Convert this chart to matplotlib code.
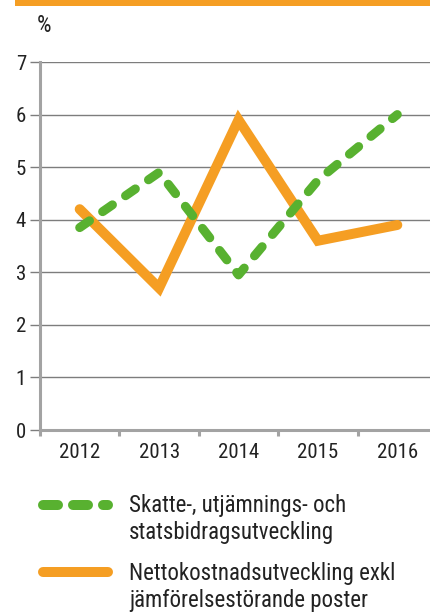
import matplotlib
matplotlib.use("Agg")
import matplotlib.pyplot as plt
from matplotlib.lines import Line2D
from matplotlib.patches import Rectangle

years = ["2012", "2013", "2014", "2015", "2016"]
skatte = [3.85, 4.9, 2.95, 4.75, 6.0]
netto = [4.2, 2.7, 5.9, 3.6, 3.9]
yticks = [0, 1, 2, 3, 4, 5, 6, 7]

label_skatte = "Skatte-, utjämnings- och\nstatsbidragsutveckling"
label_netto = "Nettokostnadsutveckling exkl\njämförelsestörande poster"

GREEN = "#58b130"
ORANGE = "#f59e23"
GRID = "#7d7d7d"
SPINE = "#a3a3a3"
TXT = "#222222"

plt.rcParams["font.family"] = ["Roboto Condensed", "Archivo Narrow", "PT Sans Narrow",
                               "Liberation Sans Narrow", "DejaVu Sans"]
plt.rcParams["lines.scale_dashes"] = False

fig = plt.figure(figsize=(4.30, 6.13), dpi=100)
W, H = 430, 613

# orange band on top
fig.add_artist(Rectangle((15 / W, 1 - 6 / H), 1, 6 / H, transform=fig.transFigure,
                         color=ORANGE, lw=0))

ax = fig.add_axes([40 / W, (H - 430) / H, 397 / W, 368 / H])
x = list(range(len(years)))
ax.plot(x, netto, color=ORANGE, lw=7.2, solid_capstyle="round",
        solid_joinstyle="miter", zorder=3)
ax.plot(x, skatte, color=GREEN, lw=6.5, dashes=(8.6, 11.5),
        dash_capstyle="round", zorder=4)

ax.set_xlim(-0.5, 4.5)
ax.set_ylim(0, 7)
ax.set_yticks(yticks)
ax.set_yticklabels([str(t) for t in yticks])
ax.set_xticks([i - 0.5 for i in range(len(years) + 1)])
ax.set_xticklabels([])
ax.set_xticks(x, minor=True)
ax.set_xticklabels(years, minor=True)
ax.tick_params(axis="x", which="minor", length=0, pad=9, labelsize=15, colors=TXT)
ax.tick_params(axis="x", which="major", length=4, width=2.2, color=SPINE)
ax.tick_params(axis="y", length=7, width=1.0, color=GRID, pad=3, labelsize=15,
               labelcolor=TXT)
ax.grid(axis="y", color=GRID, lw=1.0)
ax.set_axisbelow(True)
for s in ("top", "right"):
    ax.spines[s].set_visible(False)
for s in ("left", "bottom"):
    ax.spines[s].set_color(SPINE)
    ax.spines[s].set_linewidth(2.2)
    ax.spines[s].set_zorder(5)

fig.text(37 / W, 1 - 25 / H, "%", fontsize=16.5, va="center", ha="left", color=TXT)

# legend
def px(xp, yp):
    return xp / W, 1 - yp / H

lx0, lx1 = px(43, 505)[0], px(108, 505)[0]
fig.add_artist(Line2D([lx0, lx1], [px(0, 505)[1]] * 2, transform=fig.transFigure,
                      color=GREEN, lw=7.2, dashes=(10.8, 10.8), dash_capstyle="round"))
fig.add_artist(Line2D([lx0, lx1], [px(0, 572)[1]] * 2, transform=fig.transFigure,
                      color=ORANGE, lw=7.2, solid_capstyle="round"))
fig.text(129 / W, 1 - 494 / H, label_skatte, fontsize=16.5, va="top", ha="left",
         color=TXT, linespacing=1.2)
fig.text(129 / W, 1 - 562 / H, label_netto, fontsize=16.5, va="top", ha="left",
         color=TXT, linespacing=1.2)

fig.savefig("out.png", dpi=100)
